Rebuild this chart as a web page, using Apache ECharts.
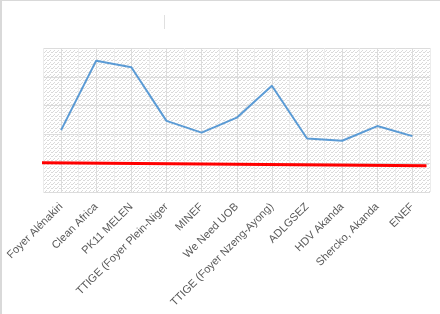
<!DOCTYPE html>
<html><head><meta charset="utf-8">
<script src="https://cdn.jsdelivr.net/npm/echarts@6/dist/echarts.min.js"></script>
<style>html,body{margin:0;padding:0;background:#fff;}#c{width:440px;height:314px;}</style>
</head><body><div id="c"></div>
<script>
var categories = ["Foyer Alénakiri","Clean Africa","PK11 MELEN","TTIGE (Foyer Plein-Niger","MINEF","We Need UOB","TTIGE (Foyer Nzeng-Ayong)","ADLGSEZ","HDV Akanda","Shercko, Akanda","ENEF"];
var blueValues = [21.5,45.6,43.3,24.7,20.6,25.8,36.9,18.6,17.8,22.9,19.4];
var redX = [-0.1, 10.9];
var redY = [10.2, 9.1];

var pc = document.createElement('canvas');
pc.width = 4; pc.height = 4;
var g = pc.getContext('2d');
g.fillStyle = '#ffffff'; g.fillRect(0,0,4,4);
g.fillStyle = '#dadada';
g.fillRect(0,0,1,1); g.fillRect(2,2,1,1); g.fillRect(3,0,1,1); g.fillRect(1,3,1,1);

var chart = echarts.init(document.getElementById('c'), null, {renderer:'canvas'});
chart.setOption({
  animation:false,
  backgroundColor:'#ffffff',
  grid:{left:43.5,right:10,top:48,bottom:122,show:true,borderWidth:0,backgroundColor:{image:pc,repeat:'repeat'}},
  xAxis:[{
    type:'category',data:categories,boundaryGap:true,
    axisLine:{show:false},axisTick:{show:false},
    axisLabel:{rotate:45,interval:0,color:'#595959',fontSize:11,fontFamily:'Liberation Sans',margin:13},
    splitLine:{show:false}
  },{
    type:'value',min:0,max:11,interval:1,show:true,
    axisLine:{show:false},axisTick:{show:false},axisLabel:{show:false},
    splitLine:{show:true,lineStyle:{color:'#ececec',width:1}},
    minorTick:{show:false,splitNumber:2},
    minorSplitLine:{show:true,lineStyle:{color:'#dcdcdc',width:1}}
  }],
  yAxis:{type:'value',min:0,max:50,interval:10,
    axisLine:{show:false},axisTick:{show:false},axisLabel:{show:false},
    splitLine:{show:true,lineStyle:{color:'#dcdcdc',width:1}}},
  series:[{
    type:'line',data:blueValues,xAxisIndex:0,symbol:'none',
    lineStyle:{color:'#5b9bd5',width:2}
  },{
    type:'line',xAxisIndex:1,symbol:'none',clip:false,
    data:redX.map(function(x,i){return [x,redY[i]];}),
    lineStyle:{color:'#ff0000',width:3}
  }],
  graphic:[
    {type:'line',shape:{x1:0,y1:0.5,x2:440,y2:0.5},style:{stroke:'#d9d9d9',lineWidth:1}},
    {type:'line',shape:{x1:1,y1:0,x2:1,y2:314},style:{stroke:'#d9d9d9',lineWidth:2}},
    {type:'line',shape:{x1:164.5,y1:15,x2:164.5,y2:29},style:{stroke:'#e0e0e0',lineWidth:1}}
  ]
});
</script></body></html>
